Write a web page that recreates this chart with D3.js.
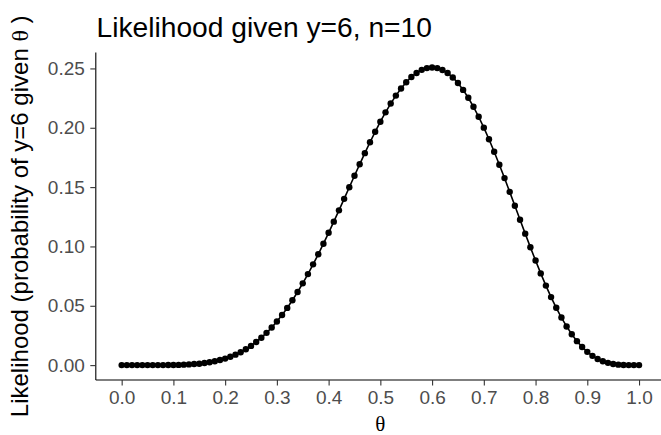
<!DOCTYPE html>
<html>
<head>
<meta charset="utf-8">
<script src="https://cdn.jsdelivr.net/npm/d3@7"></script>
<style>
  body { margin: 0; background: #fff; }
  svg { display: block; }
  text { font-family: "Liberation Sans", Arial, sans-serif; }
</style>
</head>
<body>
<div id="chart"></div>
<script>
// theta grid and the likelihood
var theta = [0.00,0.01,0.02,0.03,0.04,0.05,0.06,0.07,0.08,0.09,
             0.10,0.11,0.12,0.13,0.14,0.15,0.16,0.17,0.18,0.19,
             0.20,0.21,0.22,0.23,0.24,0.25,0.26,0.27,0.28,0.29,
             0.30,0.31,0.32,0.33,0.34,0.35,0.36,0.37,0.38,0.39,
             0.40,0.41,0.42,0.43,0.44,0.45,0.46,0.47,0.48,0.49,
             0.50,0.51,0.52,0.53,0.54,0.55,0.56,0.57,0.58,0.59,
             0.60,0.61,0.62,0.63,0.64,0.65,0.66,0.67,0.68,0.69,
             0.70,0.71,0.72,0.73,0.74,0.75,0.76,0.77,0.78,0.79,
             0.80,0.81,0.82,0.83,0.84,0.85,0.86,0.87,0.88,0.89,
             0.90,0.91,0.92,0.93,0.94,0.95,0.96,0.97,0.98,0.99,1.00];
var likelihood = [0.0000,0.0000,0.0000,0.0000,0.0000,0.0000,0.0000,0.0000,0.0000,0.0001,
                  0.0001,0.0002,0.0004,0.0006,0.0009,0.0012,0.0018,0.0024,0.0032,0.0043,
                  0.0055,0.0070,0.0088,0.0109,0.0134,0.0162,0.0195,0.0231,0.0272,0.0317,
                  0.0368,0.0422,0.0482,0.0547,0.0616,0.0689,0.0767,0.0849,0.0934,0.1023,
                  0.1115,0.1209,0.1304,0.1401,0.1499,0.1596,0.1692,0.1786,0.1878,0.1966,
                  0.2051,0.2130,0.2204,0.2271,0.2331,0.2384,0.2428,0.2462,0.2488,0.2503,
                  0.2508,0.2503,0.2487,0.2461,0.2424,0.2377,0.2319,0.2253,0.2177,0.2093,
                  0.2001,0.1903,0.1798,0.1689,0.1576,0.1460,0.1343,0.1225,0.1108,0.0993,
                  0.0881,0.0773,0.0670,0.0573,0.0483,0.0401,0.0326,0.0260,0.0202,0.0153,
                  0.0112,0.0078,0.0052,0.0033,0.0019,0.0010,0.0004,0.0001,0.0000,0.0000,0.0000];
var xTicks = [0,0.1,0.2,0.3,0.4,0.5,0.6,0.7,0.8,0.9,1.0];
var yTicks = [0,0.05,0.10,0.15,0.20,0.25];

var width = 661, height = 435;
var panel = {left: 95.8, right: 664.9, top: 52.6, bottom: 380};
var tickFont = "19px";

var data = theta.map(function (t, i) { return {t: t, l: likelihood[i]}; });

var svg = d3.select("#chart").append("svg")
    .attr("width", width)
    .attr("height", height);

// ggplot style 5% expansion on both axes
var yMax = d3.max(likelihood);
var x = d3.scaleLinear().domain([-0.05, 1.05]).range([panel.left, panel.right]);
var y = d3.scaleLinear().domain([-0.05 * yMax, 1.05 * yMax]).range([panel.bottom, panel.top]);

// x axis
var xAxis = svg.append("g")
    .attr("transform", "translate(0," + panel.bottom + ")")
    .call(d3.axisBottom(x).tickValues(xTicks).tickFormat(d3.format(".1f")).tickSize(5.5).tickPadding(5.5));
xAxis.select(".domain").attr("d", "M" + panel.left + ",0H" + panel.right).attr("stroke", "#000").attr("stroke-width", 1.1);
xAxis.selectAll(".tick line").attr("stroke", "#333").attr("stroke-width", 1.1);
xAxis.selectAll(".tick text").attr("fill", "#4D4D4D").style("font-size", tickFont)
    .style("font-family", "'Liberation Sans', Arial, sans-serif");

// y axis
var yAxis = svg.append("g")
    .attr("transform", "translate(" + panel.left + ",0)")
    .call(d3.axisLeft(y).tickValues(yTicks).tickFormat(d3.format(".2f")).tickSize(5.5).tickPadding(5.5));
yAxis.select(".domain").attr("d", "M0," + panel.top + "V" + panel.bottom).attr("stroke", "#000").attr("stroke-width", 1.1);
yAxis.selectAll(".tick line").attr("stroke", "#333").attr("stroke-width", 1.1);
yAxis.selectAll(".tick text").attr("fill", "#4D4D4D").style("font-size", tickFont)
    .style("font-family", "'Liberation Sans', Arial, sans-serif");

// line + points
var line = d3.line()
    .x(function (d) { return x(d.t); })
    .y(function (d) { return y(d.l); });

svg.append("path")
    .datum(data)
    .attr("d", line)
    .attr("fill", "none")
    .attr("stroke", "#000")
    .attr("stroke-width", 1.6);

svg.selectAll("circle.pt")
    .data(data)
    .enter().append("circle")
    .attr("class", "pt")
    .attr("cx", function (d) { return x(d.t); })
    .attr("cy", function (d) { return y(d.l); })
    .attr("r", 3.2)
    .attr("fill", "#000");

// title
svg.append("text")
    .attr("x", 96.5)
    .attr("y", 36.5)
    .style("font-size", "28.2px")
    .attr("fill", "#000")
    .text("Likelihood given y=6, n=10");

// x title (theta)
svg.append("text")
    .attr("x", (panel.left + panel.right) / 2)
    .attr("y", 431)
    .attr("text-anchor", "middle")
    .style("font-family", "'Liberation Serif', 'DejaVu Serif', serif")
    .style("font-size", "21px")
    .text("\u03b8");

// y title
var yt = svg.append("text")
    .attr("transform", "translate(28," + ((panel.top + panel.bottom) / 2) + ") rotate(-90)")
    .attr("text-anchor", "middle")
    .style("font-size", "24px")
    .attr("fill", "#000");
yt.append("tspan").text("Likelihood (probability of y=6 given ");
yt.append("tspan").style("font-family", "'Liberation Serif', 'DejaVu Serif', serif").text("\u03b8");
yt.append("tspan").text(" )");
</script>
</body>
</html>
